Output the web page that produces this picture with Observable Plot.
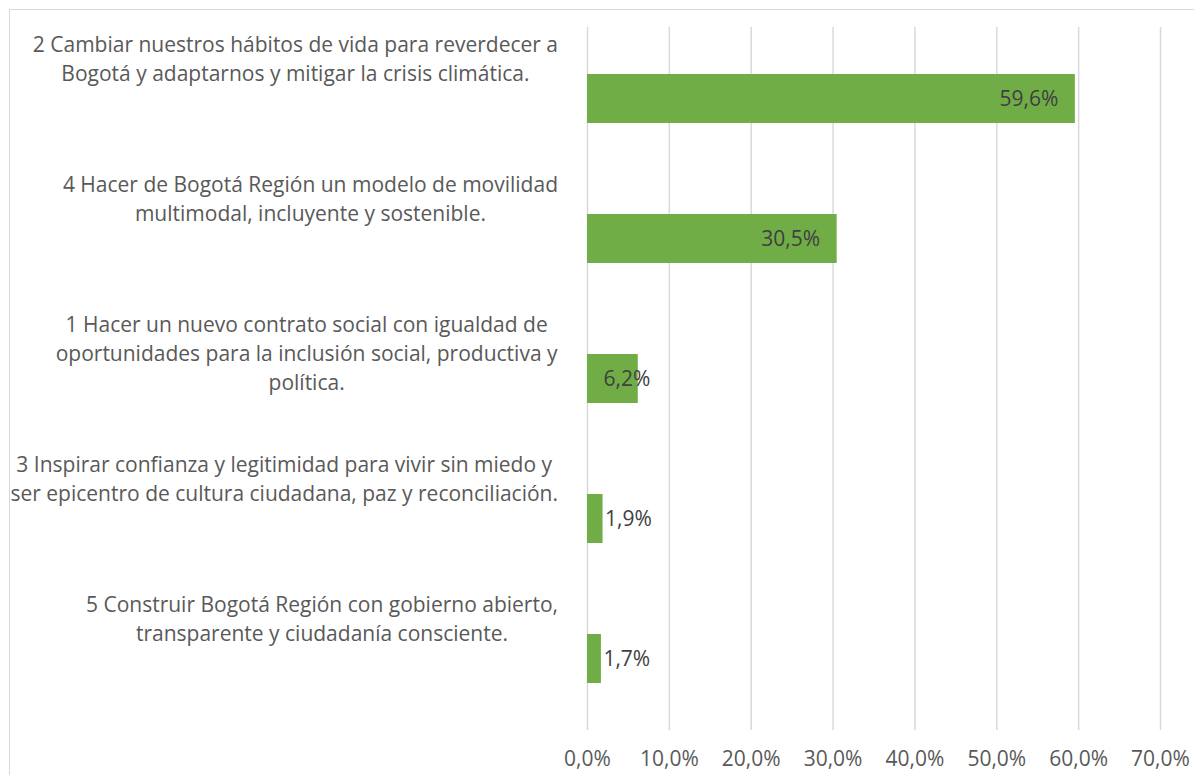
<!DOCTYPE html>
<html>
<head>
<meta charset="utf-8">
<script src="https://cdn.jsdelivr.net/npm/d3@7"></script>
<script src="https://cdn.jsdelivr.net/npm/@observablehq/plot@0.6"></script>
<style>
  html, body { margin: 0; padding: 0; background: #fff; }
  #wrap { position: relative; width: 1194px; height: 775px; overflow: hidden; }
  #border { position: absolute; left: 9px; top: 9px; width: 1300px; height: 900px; border: 1.5px solid #D9D9D9; box-sizing: border-box; }
  #chart { position: absolute; left: 0; top: 0; }
</style>
</head>
<body>
<div id="wrap"><div id="border"></div><div id="chart"></div></div>
<script>
const categories = [
  "2 Cambiar nuestros hábitos de vida para reverdecer a\nBogotá y adaptarnos y mitigar la crisis climática.",
  "4 Hacer de Bogotá Región un modelo de movilidad\nmultimodal, incluyente y sostenible.",
  "1 Hacer un nuevo contrato social con igualdad de\noportunidades para la inclusión social, productiva y\npolítica.",
  "3 Inspirar confianza y legitimidad para vivir sin miedo y\nser epicentro de cultura ciudadana, paz y reconciliación.",
  "5 Construir Bogotá Región con gobierno abierto,\ntransparente y ciudadanía consciente."
];
const values = [59.6, 30.5, 6.2, 1.9, 1.7];
const xTicks = [0, 10, 20, 30, 40, 50, 60, 70];

const data = categories.map((c, i) => ({cat: c, value: values[i]}));
const fmt = v => v.toFixed(1).replace(".", ",") + "%";
const FONT = "'Open Sans', Carlito, Calibri, sans-serif";
const FS = 21;

const inside = data.filter(d => d.value >= 20);
const mid = data.filter(d => d.value >= 5 && d.value < 20);
const outside = data.filter(d => d.value < 5);

const chart = Plot.plot({
  width: 1194,
  height: 775,
  marginLeft: 587,
  marginRight: 34,
  marginTop: 27,
  marginBottom: 45,
  style: {fontFamily: FONT, fontSize: FS + "px", background: "transparent", color: "#595959"},
  x: {domain: [0, 70], label: null},
  y: {domain: categories, paddingInner: 0.65, paddingOuter: 0.325, axis: null},
  marks: [
    Plot.gridX(xTicks, {stroke: "#D9D9D9", strokeOpacity: 1, strokeWidth: 1.5}),
    Plot.barX(data, {x: "value", y: "cat", fill: "#70AD47"}),
    Plot.axisX(xTicks, {tickSize: 0, tickPadding: 21, tickFormat: fmt, fill: "#595959", fontSize: FS, fontFamily: FONT, label: null}),
    Plot.text(inside, {x: "value", y: "cat", text: d => fmt(d.value), textAnchor: "end", dx: -17, fill: "#404040", fontSize: FS}),
    Plot.text(mid, {x: 0, y: "cat", text: d => fmt(d.value), textAnchor: "start", dx: 16, fill: "#404040", fontSize: FS}),
    Plot.text(outside, {x: "value", y: "cat", text: d => fmt(d.value), textAnchor: "start", dx: 2, fill: "#404040", fontSize: FS}),
    Plot.text(data, {y: "cat", text: "cat", frameAnchor: "left", textAnchor: "middle", lineAnchor: "top", lineHeight: 29 / FS, dy: -68, dx: -300, fill: "#595959", fontSize: FS})
  ]
});
document.getElementById("chart").appendChild(chart);

// right-align each centered category label block to the left of the plot area
const svgRect = chart.getBoundingClientRect();
const flat = categories.map(c => c.replace(/\n/g, ""));
chart.querySelectorAll("text").forEach(t => {
  if (flat.includes(t.textContent)) {
    const r = t.getBoundingClientRect();
    const right = r.right - svgRect.left;
    const delta = 558 - right;
    t.setAttribute("transform", (t.getAttribute("transform") || "") + ` translate(${delta},0)`);
  }
});
</script>
</body>
</html>
